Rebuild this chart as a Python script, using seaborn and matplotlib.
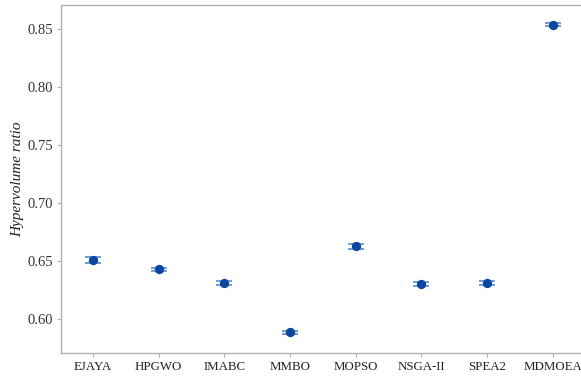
import matplotlib
matplotlib.use("Agg")
import matplotlib.pyplot as plt
import seaborn as sns
import pandas as pd

algorithms = ["EJAYA", "HPGWO", "IMABC", "MMBO", "MOPSO", "NSGA-II", "SPEA2", "MDMOEA"]
hv_mean = [0.6505, 0.6428, 0.6307, 0.5883, 0.6625, 0.6297, 0.6307, 0.8535]
hv_err = [0.0024, 0.0012, 0.0020, 0.0015, 0.0020, 0.0017, 0.0020, 0.0015]
y_ticks = [0.60, 0.65, 0.70, 0.75, 0.80, 0.85]

df = pd.DataFrame({"algorithm": algorithms, "hv": hv_mean, "err": hv_err})

sns.set_style("white")
plt.rcParams["font.family"] = ["Liberation Serif", "DejaVu Serif"]

fig = plt.figure(figsize=(5.81, 3.77), dpi=100)
ax = fig.add_axes([61 / 581, 1 - 353 / 377, 1 - 61 / 581, (353 - 5) / 377])

x = list(range(len(algorithms)))
ax.errorbar(x, df["hv"], yerr=df["err"], fmt="none", ecolor="#5b8bc9",
            elinewidth=1.0, capsize=5.6, capthick=1.2, zorder=2)
sns.scatterplot(data=df, x="algorithm", y="hv", ax=ax, s=45, color="#0b47a1",
                edgecolor="#0b47a1", linewidth=0, zorder=3, legend=False)

ax.set_xlim(-0.487, 7.43)
ax.set_ylim(0.5705, 0.8705)
ax.set_yticks(y_ticks)
ax.set_yticklabels([f"{v:.2f}" for v in y_ticks], fontsize=10.5, color="#333333")
ax.set_xticks(x)
ax.set_xticklabels(algorithms, fontsize=9.3, color="#222222")
ax.set_xlabel("")
ax.set_ylabel("Hypervolume ratio", fontsize=11, style="italic", color="#222222", labelpad=2)

for side in ["left", "bottom", "top"]:
    ax.spines[side].set_visible(True)
    ax.spines[side].set_color("#b0b0b0")
    ax.spines[side].set_linewidth(1.0)
ax.spines["right"].set_visible(False)
ax.tick_params(axis="both", which="both", length=3, width=0.8, color="#b0b0b0",
               direction="out", bottom=True, left=True, pad=3)

fig.savefig("out.png", dpi=100)
